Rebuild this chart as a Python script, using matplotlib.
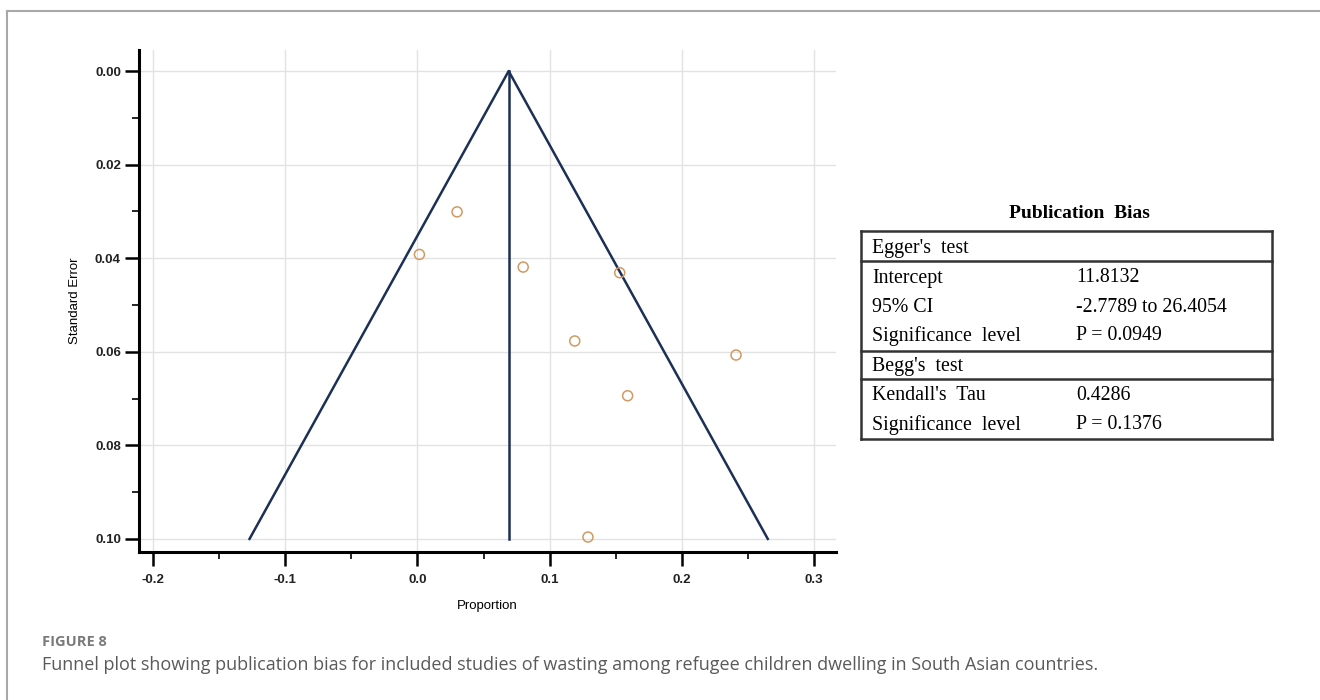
import matplotlib.pyplot as plt
from matplotlib.lines import Line2D
from matplotlib.ticker import MultipleLocator, FormatStrFormatter

# ---------------------------------------------------------
## Datos del funnel plot
proporcion = [0.030, 0.0015, 0.080, 0.153, 0.119, 0.241, 0.159, 0.129]
error_std = [0.0301, 0.0392, 0.0419, 0.0431, 0.0577, 0.0607, 0.0694, 0.0996]
pooled = 0.069
se_max = 0.10

## Tabla de sesgo de publicacion
titulo_tabla = "Publication  Bias"
egger_filas = ["Intercept", "95% CI", "Significance  level"]
egger_valores = ["11.8132", "-2.7789 to 26.4054", "P = 0.0949"]
begg_filas = ["Kendall's  Tau", "Significance  level"]
begg_valores = ["0.4286", "P = 0.1376"]

# ---------------------------------------------------------
fig = plt.figure(figsize=(13.2, 7), dpi=100)
W, H = 1320, 700


def fx(px):
    return px / W


def fy(py):
    return 1 - py / H


# marco gris de la figura
fig.add_artist(Line2D([fx(7), 1], [fy(11), fy(11)], color='#a8a8a8', lw=1.5))
fig.add_artist(Line2D([fx(7), fx(7)], [fy(11), 0], color='#a8a8a8', lw=1.5))

ax = fig.add_axes([fx(139), fy(552), fx(836) - fx(139), fy(50) - fy(552)])

azul = '#1c2f55'
# embudo
ax.plot([pooled - 1.96 * se_max, pooled, pooled + 1.96 * se_max], [se_max, 0, se_max],
        color=azul, lw=1.8)
ax.plot([pooled, pooled], [0, se_max], color=azul, lw=1.8)
ax.scatter(proporcion, error_std, s=52, facecolors='none', edgecolors='#d09a63', linewidths=1.1, zorder=3)

ax.set_xlim(-0.2106, 0.3166)
ax.set_ylim(0.1028, -0.0045)
ax.xaxis.set_major_locator(MultipleLocator(0.1))
ax.xaxis.set_minor_locator(MultipleLocator(0.05))
ax.yaxis.set_major_locator(MultipleLocator(0.02))
ax.yaxis.set_minor_locator(MultipleLocator(0.01))
ax.xaxis.set_major_formatter(FormatStrFormatter('%.1f'))
ax.yaxis.set_major_formatter(FormatStrFormatter('%.2f'))
ax.grid(True, which='major', color='#e2e2e2', lw=1.0)
ax.set_axisbelow(True)
for s in ['top', 'right']:
    ax.spines[s].set_visible(False)
for s in ['left', 'bottom']:
    ax.spines[s].set_linewidth(2.2)
ax.tick_params(which='major', length=10, width=1.8, direction='out', labelsize=9.5, pad=3)
ax.tick_params(axis='x', which='major', pad=6)
ax.tick_params(which='minor', length=5, width=1.2, direction='out')
for lab in ax.get_xticklabels() + ax.get_yticklabels():
    lab.set_fontfamily('Liberation Sans')
    lab.set_fontweight('bold')
    lab.set_color('#222222')
ax.set_xlabel('Proportion', fontsize=9.5, family='Liberation Sans', labelpad=10)
ax.set_ylabel('Standard Error', fontsize=9.5, family='Liberation Sans', labelpad=10)

# ---------------------------------------------------------
## Tabla
serif = 'Liberation Serif'
fs = 14.3
fig.text(fx(1079), fy(213), titulo_tabla, ha='center', va='center', family=serif,
         fontsize=14, fontweight='bold')
x0, x1 = 861, 1272
gris = '#333333'
for yy in [231, 261, 351, 379, 439]:
    fig.add_artist(Line2D([fx(x0), fx(x1)], [fy(yy), fy(yy)], color=gris, lw=1.8))
for xx in [x0, x1]:
    fig.add_artist(Line2D([fx(xx), fx(xx)], [fy(231), fy(439)], color=gris, lw=1.8))

col1, col2 = 872, 1076
fig.text(fx(col1), fy(248), "Egger's  test", va='center', family=serif, fontsize=fs)
for i, (a, b) in enumerate(zip(egger_filas, egger_valores)):
    yy = 278 + i * 29
    fig.text(fx(col1), fy(yy), a, va='center', family=serif, fontsize=fs)
    fig.text(fx(col2), fy(yy), b, va='center', family=serif, fontsize=fs)
fig.text(fx(col1), fy(366), "Begg's  test", va='center', family=serif, fontsize=fs)
for i, (a, b) in enumerate(zip(begg_filas, begg_valores)):
    yy = 396 + i * 29
    fig.text(fx(col1), fy(yy), a, va='center', family=serif, fontsize=fs)
    fig.text(fx(col2), fy(yy), b, va='center', family=serif, fontsize=fs)

# ---------------------------------------------------------
## Pie de figura
fig.text(fx(42), fy(642), "FIGURE 8", va='center', family='Open Sans', fontsize=10.5,
         fontweight='bold', color='#7a7a7a')
fig.text(fx(42), fy(665), "Funnel plot showing publication bias for included studies of wasting among "
         "refugee children dwelling in South Asian countries.", va='center', family='Open Sans',
         fontsize=13, color='#5a5a5a')

fig.savefig('out.png', dpi=100)
